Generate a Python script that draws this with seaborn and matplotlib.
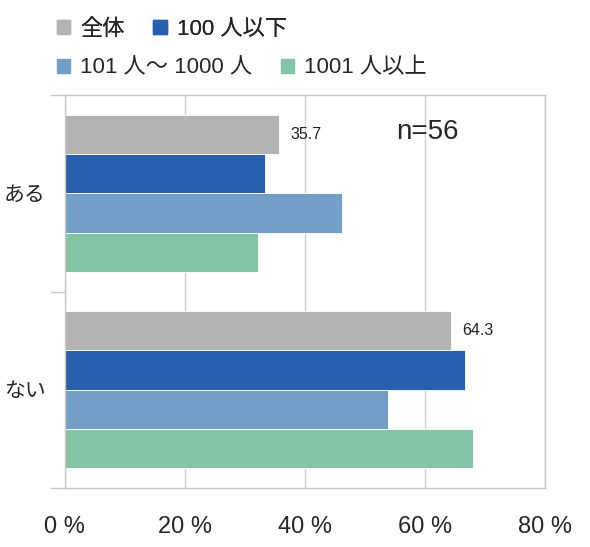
import matplotlib
matplotlib.use('Agg')
import matplotlib.pyplot as plt
import pandas as pd
import seaborn as sns

# data
answers = ["ある", "ない"]
groups = ["全体", "100 人以下", "101 人〜 1000 人", "1001 人以上"]
zentai = [35.7, 64.3]
under100 = [33.3, 66.7]
mid = [46.2, 53.8]
over1000 = [32.1, 67.9]
colors = ["#b3b3b3", "#2a5fae", "#729fc5", "#83c5a5"]

df = pd.DataFrame({
    "answer": answers * 4,
    "group": [g for g in groups for _ in answers],
    "value": zentai + under100 + mid + over1000,
})

sns.set_style("white")
plt.rcParams['font.family'] = ['Liberation Sans', 'Noto Sans CJK JP', 'DejaVu Sans']

fig = plt.figure(figsize=(5.9, 5.47), dpi=100)
ax = fig.add_axes([0.110, 0.108, 0.814, 0.718])

sns.barplot(data=df, y="answer", x="value", hue="group", hue_order=groups,
            palette=colors, orient="h", width=0.8, saturation=1,
            edgecolor="white", linewidth=0.6, ax=ax, legend=False)

ax.set_xlim(0, 80)
ax.set_ylim(1.5, -0.5)
ax.set_xticks([0, 20, 40, 60, 80])
ax.set_xticklabels([f"{v} %" for v in [0, 20, 40, 60, 80]], fontsize=17)
ax.set_yticks([0, 1])
ax.set_yticklabels(answers, fontsize=15)
ax.set_xlabel("")
ax.set_ylabel("")
ax.tick_params(axis="y", length=0, pad=14)
ax.tick_params(axis="x", length=6, color="#c8c8c8", direction="out", pad=14)

# category boundary ticks on the y axis
for yb in [-0.5, 0.5, 1.5]:
    ax.plot([-0.028, 0], [yb, yb], transform=ax.get_yaxis_transform(),
            color="#c8c8c8", lw=1, clip_on=False)

ax.grid(axis="x", color="#d0d0d0", lw=1)
ax.set_axisbelow(True)
for s in ax.spines.values():
    s.set_color("#c8c8c8")
    s.set_linewidth(1)

# value labels for 全体
ax.bar_label(ax.containers[0], fmt="%.1f", padding=8, fontsize=11.5,
             color="#222222")

ax.text(0.69, 0.905, "n=56", transform=ax.transAxes, fontsize=20,
        ha="left", va="center", fontstretch="condensed")

handles = [plt.Rectangle((0, 0), 1, 1, color=c) for c in colors]
leg_kw = dict(ncol=2, loc="upper left", frameon=False, fontsize=16,
              handlelength=0.6, handleheight=0.6, handletextpad=0.45,
              columnspacing=1.3, borderaxespad=0.3)
leg1 = fig.legend(handles[:2], groups[:2], bbox_to_anchor=(0.0695, 0.9935), **leg_kw)
fig.add_artist(leg1)
fig.legend(handles[2:], groups[2:], bbox_to_anchor=(0.0695, 0.9235), **leg_kw)

fig.savefig("out.png", dpi=100)
